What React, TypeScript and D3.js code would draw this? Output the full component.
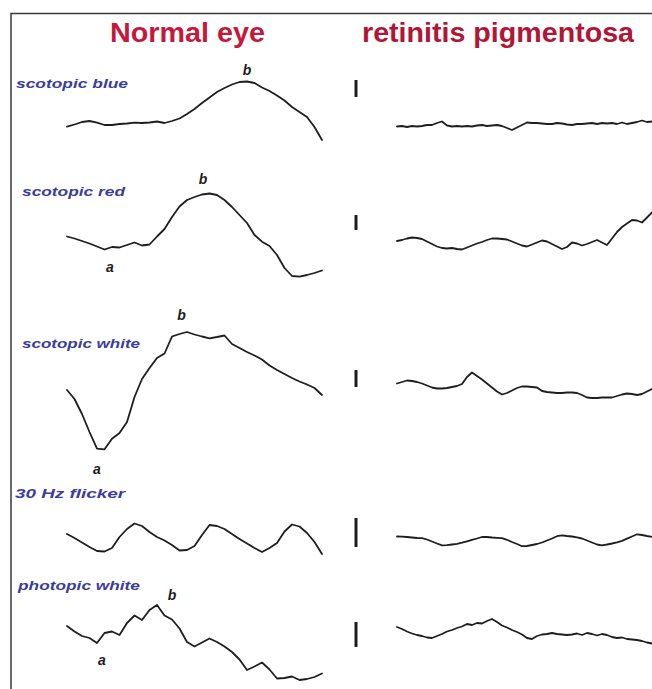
import * as d3 from "d3";
import { useEffect, useRef } from "react";

const columnTitles = ["Normal eye", "retinitis pigmentosa"];
const rowLabels = ["scotopic blue", "scotopic red", "scotopic white", "30 Hz flicker", "photopic white"];

// normal eye sweeps, 35 samples each (amplitude, arbitrary units, up = positive)
const normalBlue = [-1.7, 0.5, 3, 4, 2.3, 0, 0, 1, 1.5, 2.3, 2, 2.5, 3.5, 2, 4, 6.5, 11, 16, 22, 27.5, 33, 37, 40.5, 43, 43.5, 42, 37.5, 34, 29.5, 24.5, 18, 13, 8, -2, -15];
const normalRed = [3.5, 1.5, -1, -3.5, -6.5, -9.5, -7, -7.5, -5, -2.5, -5.5, -4.5, 3.5, 11, 23, 33.5, 40, 43, 45.5, 46.5, 45, 40, 33, 25, 17, 5, -1.7, -6, -15, -28, -36, -36.7, -35, -33, -30.5];
const normalWhite = [-10, -19, -34, -52, -68.7, -69.3, -58.7, -53, -42, -17, 1, 12, 22, 26.5, 43.5, 46, 48, 45.5, 43.5, 41.7, 43, 44.5, 36, 32, 28, 24.5, 20.5, 14.5, 10, 6, 2, -1.5, -4.5, -8, -15];
const normalFlicker = [4, 0, -4.5, -9, -13, -13.5, -10, 1, 9, 14.5, 12, 6, 1, -2.5, -7, -12.5, -12, -8, 3, 13, 12, 9, 4, -1, -5.5, -10, -14, -10, -5, 6.5, 13.5, 11.5, 5, -4, -16];
const normalPhotopic = [4, -1.5, -6, -8, -13, -3, -1.5, -5, 7, 14.5, 10, 20, 25, 14.5, 10.5, 1.5, -12, -16.5, -12.5, -8.5, -12, -16.5, -22, -29.5, -40, -36.5, -32.5, -39.5, -48.5, -48, -46.5, -50, -49, -47, -43.5];

// retinitis pigmentosa sweeps, 52 samples each
const rpBlue = [-1.5, -1, -2, -1, -1.5, -1, 0, 0, 2, 3.5, -0.5, -1.5, -1, -1.5, -1, -1.5, -0.5, 0, -1, -0.5, 0, -1, -3, -5, -2.5, 0, 2.5, 2, 2, 1.5, 1, 1, 2, 1.5, 0.5, 0, 1, 1, 1.5, 2, 1, 2, 1.5, 2, 1, 2.5, 1, 2, 3, 4.5, 3, 3.5];
const rpRed = [-1, 0, 1.5, 2.5, 2, 1, -1.5, -4, -6.5, -8, -8.5, -8, -9, -9.5, -7.5, -5.5, -3.5, -2, 0, 1.5, 1.5, 1, 0.5, -1.5, -3.5, -5.5, -6.5, -4.5, -2.5, -0.5, -1.5, -4, -6.5, -9, -7, -2.5, -3.5, -5.5, -4, -2, 0, -2.5, -5, 1.5, 8, 13, 16.5, 20, 19.5, 17.5, 22.5, 27.5];
const rpWhite = [-3.5, -2, -0.5, -1, -2, -3.5, -5.5, -7.5, -8.5, -8.5, -8, -7, -6, -4, 3, 7.5, 4, 0.5, -3.5, -7.5, -11.5, -14.5, -13, -10.5, -8, -6.5, -6.5, -7, -7.5, -11, -12, -12.5, -13, -13, -12.5, -12.5, -13, -15, -17.5, -18, -18, -17.5, -17.5, -17.5, -16, -14.5, -13.5, -14, -15, -14, -11.5, -9];
const rpFlicker = [1.5, 1.3, 1, 0.5, 0, -0.2, -1.5, -3.5, -5.5, -7.3, -7.2, -6.5, -5.8, -4.7, -3.3, -1.8, -0.5, 1, 1, 0.5, 0.2, -0.2, -1.8, -4, -6, -8.2, -8, -7, -6, -4.5, -2.5, -0.5, 1.8, 2.7, 2, 1.5, 0.7, -0.5, -2.5, -4.5, -6.5, -7.3, -6.5, -5.5, -4.3, -2.8, -0.7, 1.5, 3.7, 3, 2, 1.2];
const rpPhotopic = [3, 1, -1.5, -3.5, -5, -6, -7.5, -8, -6, -4, -1.5, 0, 2, 3.5, 6, 5, 7, 6.5, 9, 11, 8, 4.5, 2.5, 0, -2, -4.5, -8, -9, -6, -4.5, -4, -3, -4, -4.5, -5, -4.5, -3.5, -5, -3, -4, -5.5, -4, -5, -7, -8, -7.5, -9, -9.5, -10, -11, -12.5, -13.5];

// calibration bar amplitude per row
const calibration = [17, 15, 17, 29, 25];

// a- and b-wave markers on the normal sweeps: row, sample index, letter
const waveMarks = [
  { row: 0, i: 24, text: "b" },
  { row: 1, i: 18, text: "b" },
  { row: 1, i: 6, text: "a" },
  { row: 2, i: 15, text: "b" },
  { row: 2, i: 4, text: "a" },
  { row: 4, i: 12, text: "b" },
  { row: 4, i: 4, text: "a" },
];

const normalSweeps = [normalBlue, normalRed, normalWhite, normalFlicker, normalPhotopic];
const rpSweeps = [rpBlue, rpRed, rpWhite, rpFlicker, rpPhotopic];

export default function App() {
  const ref = useRef<HTMLDivElement>(null);

  useEffect(() => {
    d3.select(ref.current).select("svg").remove();

    const width = 652, height = 689;
    const font = "'Liberation Sans', Arial, sans-serif";

    // layout
    const baselines = [125, 240, 380, 538, 630];
    const labelX = [16, 22, 22, 15, 18];
    const labelY = [88, 196, 348, 498, 590];
    const labelLen = [112, 103, 118, 110, 122];
    const calBottom = [28, 10, -7, -9, -17];
    const markOffsets = [[0, -12], [1, -16], [-2, 20], [2, -19], [0, 20], [15, -10], [5, 17]];

    const svg = d3.select(ref.current)
      .append("svg")
      .attr("width", width)
      .attr("height", height)
      .style("position", "absolute")
      .style("left", "0px")
      .style("top", "0px")
      .style("background", "#fff");

    // frame
    svg.append("path")
      .attr("d", `M11,${height}V13.5H${width}`)
      .attr("fill", "none")
      .attr("stroke", "#3a3a3a")
      .attr("stroke-width", 1.5);

    // column titles
    const titleX = [187.5, 498];
    const titleLen = [155, 272];
    svg.selectAll("text.title")
      .data(columnTitles)
      .join("text")
      .attr("class", "title")
      .attr("x", (d, i) => titleX[i])
      .attr("y", 42)
      .attr("text-anchor", "middle")
      .attr("textLength", (d, i) => titleLen[i])
      .attr("lengthAdjust", "spacingAndGlyphs")
      .attr("font-family", font)
      .attr("font-weight", "bold")
      .attr("font-size", 27)
      .attr("fill", (d, i) => (i === 0 ? "#c4183c" : "#b01636"))
      .text(d => d);

    // row labels
    svg.selectAll("text.row")
      .data(rowLabels)
      .join("text")
      .attr("class", "row")
      .attr("x", (d, i) => labelX[i])
      .attr("y", (d, i) => labelY[i])
      .attr("textLength", (d, i) => labelLen[i])
      .attr("lengthAdjust", "spacingAndGlyphs")
      .attr("font-family", font)
      .attr("font-weight", "bold")
      .attr("font-style", "italic")
      .attr("font-size", 13)
      .attr("fill", "#3c3c9e")
      .text(d => d);

    const xNormal = d3.scaleLinear().domain([0, normalBlue.length - 1]).range([67, 322]);
    const xRp = d3.scaleLinear().domain([0, rpBlue.length - 1]).range([397, 652]);
    const yRow = (r: number) => d3.scaleLinear().domain([-1, 1]).range([baselines[r] + 1, baselines[r] - 1]);

    const drawSweep = (values: number[], x: d3.ScaleLinear<number, number>, r: number) => {
      const y = yRow(r);
      const line = d3.line<number>()
        .x((d, i) => x(i))
        .y(d => y(d))
        .curve(d3.curveLinear);
      svg.append("path")
        .datum(values)
        .attr("d", line)
        .attr("fill", "none")
        .attr("stroke", "#1e1e1e")
        .attr("stroke-width", 1.8)
        .attr("stroke-linejoin", "round")
        .attr("stroke-linecap", "round");
    };

    normalSweeps.forEach((s, r) => drawSweep(s, xNormal, r));
    rpSweeps.forEach((s, r) => drawSweep(s, xRp, r));

    // calibration bars
    svg.selectAll("line.cal")
      .data(calibration)
      .join("line")
      .attr("class", "cal")
      .attr("x1", 356)
      .attr("x2", 356)
      .attr("y1", (d, r) => yRow(r)(calBottom[r]))
      .attr("y2", (d, r) => yRow(r)(calBottom[r] + d))
      .attr("stroke", "#1c1c1c")
      .attr("stroke-width", 3);

    // a / b wave markers
    svg.selectAll("text.mark")
      .data(waveMarks)
      .join("text")
      .attr("class", "mark")
      .attr("x", (d, k) => xNormal(d.i) + markOffsets[k][0])
      .attr("y", (d, k) => yRow(d.row)(normalSweeps[d.row][d.i]) + markOffsets[k][1])
      .attr("text-anchor", "middle")
      .attr("dominant-baseline", "central")
      .attr("font-family", font)
      .attr("font-weight", "bold")
      .attr("font-style", "italic")
      .attr("font-size", 14)
      .attr("fill", "#1c1c1c")
      .text(d => d.text);
  }, []);

  return <div ref={ref}></div>;
}
